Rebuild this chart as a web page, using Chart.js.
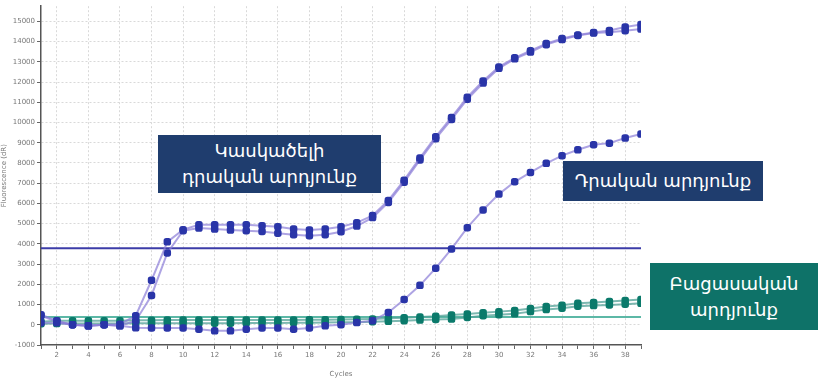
<!DOCTYPE html>
<html>
<head>
<meta charset="utf-8">
<script src="https://cdn.jsdelivr.net/npm/chart.js@4.4.0/dist/chart.umd.min.js"></script>
<style>
  html, body { margin: 0; padding: 0; background: #fff; }
  #wrap { position: relative; width: 818px; height: 382px; overflow: hidden; }
  #qpcr { position: absolute; left: 0; top: 0; }
  .tag {
    position: absolute; color: #fff; text-align: center;
    font-family: "DejaVu Sans", "Noto Sans", sans-serif; font-size: 18px; line-height: 26px;
    display: flex; align-items: center; justify-content: center;
  }
  .navy { background: #1f3d6e; }
  .teal { background: #0e7268; }
</style>
</head>
<body>
<div id="wrap">
  <canvas id="qpcr" width="818" height="382"></canvas>
  <div class="tag navy" style="left:158px;top:135px;width:223px;height:58px;">Կասկածելի<br>դրական արդյունք</div>
  <div class="tag navy" style="left:563px;top:161px;width:200px;height:40px;">Դրական արդյունք</div>
  <div class="tag teal" style="left:650px;top:263px;width:168px;height:67px;">Բացասական<br>արդյունք</div>
</div>
<script>
// cycles 1..39
var cycles = [];
for (var c = 1; c <= 39; c++) cycles.push(c);

// doubtful positive, two replicates
var kaskA = [450, 150, 0, -50, 0, 30, 450, 2200, 4100, 4700, 4950, 4950, 4950, 4950, 4900, 4850, 4730, 4680, 4730, 4850,
             5050, 5400, 6150, 7150, 8250, 9300, 10250, 11250, 12050, 12750, 13200, 13550, 13900, 14150, 14330, 14450, 14550, 14720, 14850];
var kaskB = [100, 100, 0, -50, 0, -50, 200, 1450, 3550, 4650, 4780, 4730, 4680, 4650, 4610, 4530, 4450, 4400, 4450, 4600,
             4880, 5300, 6050, 7050, 8150, 9200, 10150, 11150, 11950, 12680, 13150, 13480, 13850, 14100, 14300, 14420, 14460, 14540, 14620];
// positive
var drakan = [500, 200, 0, -50, 0, -50, -150, -160, -160, -160, -220, -300, -300, -220, -160, -160, -220, -160, -50, 0,
              110, 200, 610, 1250, 1950, 2800, 3750, 4800, 5680, 6460, 7070, 7530, 7980, 8360, 8650, 8900, 8980, 9230, 9430];
// negative, two replicates
var bacasA = [150, 200, 200, 200, 200, 200, 220, 220, 230, 230, 230, 230, 230, 230, 230, 240, 240, 250, 250, 260,
              270, 290, 320, 350, 380, 420, 480, 530, 600, 650, 700, 800, 900, 960, 1060, 1100, 1150, 1200, 1250];
var bacasB = [50, 60, 60, 60, 60, 60, 80, 80, 80, 80, 80, 80, 80, 90, 90, 90, 100, 100, 110, 120,
              130, 150, 170, 200, 230, 260, 280, 360, 450, 500, 540, 650, 750, 820, 920, 950, 980, 1020, 1060];

var thrBlue = 3780;
var thrTeal = 380;

function pts(arr) {
  return arr.map(function (v, i) { return { x: cycles[i], y: v }; });
}
function flat(v) {
  return [{ x: cycles[0], y: v }, { x: cycles[cycles.length - 1], y: v }];
}

var blueDot = '#2a35a8', blueLine = 'rgba(140,125,215,0.7)';
var tealDot = '#0b7a6b', tealLine = 'rgba(80,160,150,0.75)';

function curve(arr, dot, line) {
  return {
    data: pts(arr), borderColor: line, borderWidth: 2,
    pointBackgroundColor: dot, pointBorderColor: dot,
    pointStyle: 'rectRounded', pointRadius: 3.2, tension: 0
  };
}

var ctx = document.getElementById('qpcr').getContext('2d');
new Chart(ctx, {
  type: 'line',
  data: {
    datasets: [
      curve(kaskA, blueDot, blueLine),
      curve(kaskB, blueDot, blueLine),
      curve(drakan, blueDot, blueLine),
      curve(bacasA, tealDot, tealLine),
      curve(bacasB, tealDot, tealLine),
      { data: flat(thrBlue), borderColor: '#3c3ca8', borderWidth: 2, pointRadius: 0 },
      { data: flat(thrTeal), borderColor: '#5cb8a6', borderWidth: 2, pointRadius: 0 }
    ]
  },
  options: {
    responsive: false,
    animation: false,
    layout: { padding: { top: 5, right: 177, left: 0, bottom: 0 } },
    plugins: { legend: { display: false }, tooltip: { enabled: false } },
    scales: {
      x: {
        type: 'linear', min: 1, max: 39,
        afterFit: function (s) { s.height = 37; },
        ticks: {
          stepSize: 1, autoSkip: false, maxRotation: 0, color: '#777', padding: 2,
          font: { size: 7, family: 'DejaVu Sans' },
          callback: function (v) { return v % 2 === 0 ? v : ''; }
        },
        grid: {
          color: function (c) { return c.tick && c.tick.value % 2 === 0 ? '#d9d9d9' : 'rgba(0,0,0,0)'; },
          tickColor: '#666', tickLength: 4, lineWidth: 1
        },
        border: { color: '#555', width: 1.5, dash: [2, 2] },
        title: { display: true, text: 'Cycles', color: '#777', font: { size: 7, family: 'DejaVu Sans' }, padding: { top: 8 } }
      },
      y: {
        min: -1000, max: 15750,
        afterFit: function (s) { s.width = 41; },
        afterBuildTicks: function (s) {
          var t = [];
          for (var v = -1000; v <= 15500; v += 500) t.push({ value: v });
          s.ticks = t;
        },
        ticks: {
          color: '#777', padding: 2,
          font: { size: 7, family: 'DejaVu Sans' },
          callback: function (v) { return v % 1000 === 0 ? v : ''; }
        },
        grid: {
          color: function (c) { return c.tick && c.tick.value % 1000 === 0 && c.tick.value > -1000 ? '#d9d9d9' : 'rgba(0,0,0,0)'; },
          tickColor: '#666', tickLength: 4, lineWidth: 1
        },
        border: { color: '#555', width: 1.5, dash: [2, 2] },
        title: { display: true, text: 'Fluorescence (dR)', color: '#777', font: { size: 7, family: 'DejaVu Sans' }, padding: 0 }
      }
    }
  }
});
</script>
</body>
</html>
